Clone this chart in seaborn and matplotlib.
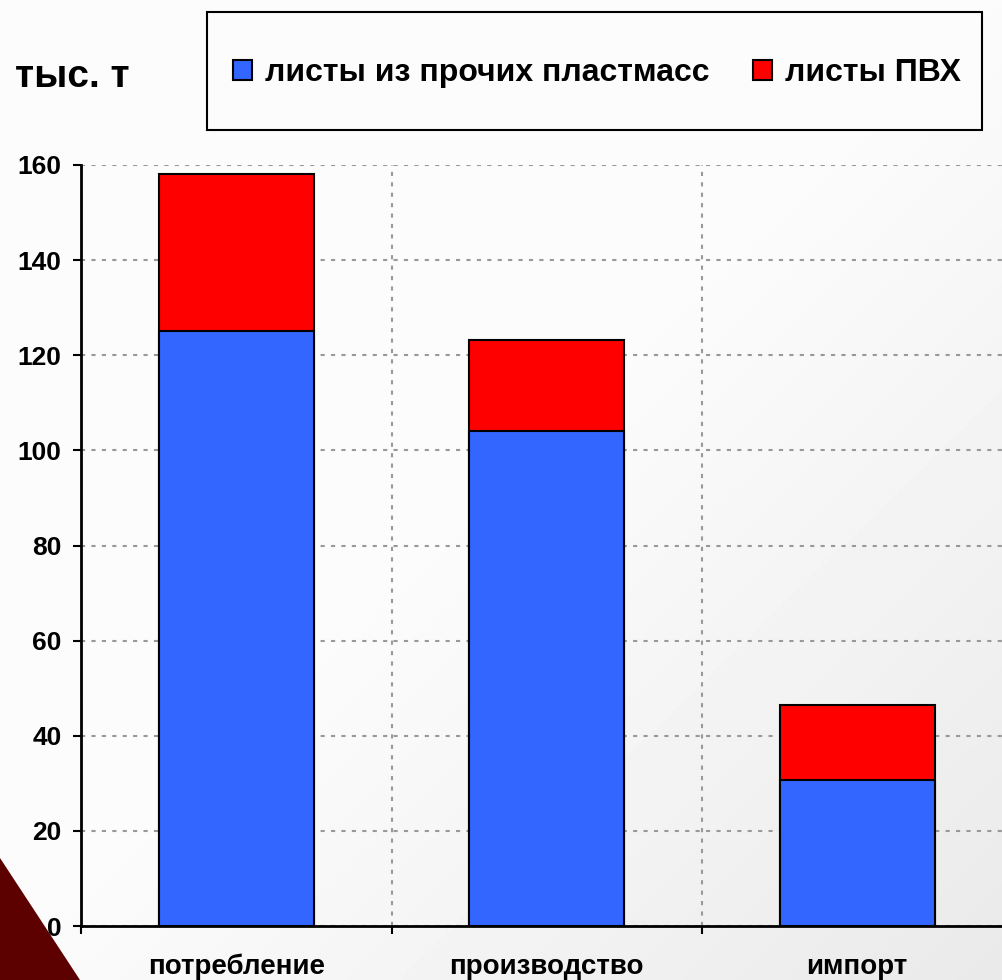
import numpy as np
import pandas as pd
import matplotlib
matplotlib.use("Agg")
import matplotlib.pyplot as plt
import seaborn as sns
from matplotlib.patches import Patch, Rectangle, Polygon

# data
categories = ["потребление", "производство", "импорт"]
other_plastics = [125.0, 104.0, 30.8]
pvc = [33.2, 19.2, 15.6]
series_names = ["листы из прочих пластмасс", "листы ПВХ"]
y_ticks = [0, 20, 40, 60, 80, 100, 120, 140, 160]
unit_label = "тыс. т"

blue = "#3366FF"
red = "#FF0000"
grid_color = "#999999"

df = pd.DataFrame({"category": categories, "other": other_plastics, "pvc": pvc})
df["total"] = df["other"] + df["pvc"]

sns.set_style("white")
plt.rcParams["font.family"] = ["Liberation Sans", "DejaVu Sans"]
plt.rcParams["font.weight"] = "bold"
plt.rcParams["text.color"] = "black"
plt.rcParams["xtick.color"] = "black"
plt.rcParams["ytick.color"] = "black"
plt.rcParams["xtick.labelcolor"] = "black"
plt.rcParams["ytick.labelcolor"] = "black"

W, H = 1003, 980
fig = plt.figure(figsize=(W / 100, H / 100), dpi=100)
fig.patch.set_facecolor("#FBFBFB")

# soft grey background shading toward the lower right
bg = fig.add_axes([0, 0, 1, 1], zorder=-10)
gx, gy = np.meshgrid(np.linspace(0, 1, 200), np.linspace(0, 1, 200))
shade = 0.985 - 0.07 * np.clip(gx + gy - 1.0, 0, 1)
bg.imshow(shade, cmap="gray", vmin=0, vmax=1, extent=[0, 1, 0, 1], aspect="auto")
bg.axis("off")

# dark red corner decoration
fig.add_artist(Polygon([[0, 1 - 858 / H], [80 / W, 0], [0, 0]], closed=True,
                       transform=fig.transFigure, facecolor="#5C0000",
                       edgecolor="none", zorder=-5))

ax = fig.add_axes([81 / W, 1 - 926 / H, (1012.5 - 81) / W, (926 - 165) / H])
ax.set_facecolor("none")

# stacked bars: total (red) first, then the lower part (blue) on top
sns.barplot(data=df, x="category", y="total", color=red, saturation=1, width=0.5,
            edgecolor="black", linewidth=1.5, errorbar=None, ax=ax, zorder=3)
sns.barplot(data=df, x="category", y="other", color=blue, saturation=1, width=0.5,
            edgecolor="black", linewidth=1.5, errorbar=None, ax=ax, zorder=4)

ax.set_xlim(-0.5, 2.5)
ax.set_ylim(0, 160)
ax.set_yticks(y_ticks)
ax.set_xticks(range(len(categories)))
ax.set_xticklabels(categories)
ax.set_xticks([-0.5, 0.5, 1.5, 2.5], minor=True)
ax.set_xlabel("")
ax.set_ylabel("")

ax.tick_params(axis="x", which="major", length=0, pad=20, labelsize=20)
ax.tick_params(axis="x", which="minor", bottom=True, length=6, width=1.5,
               color="black", direction="out")
ax.tick_params(axis="y", left=True, length=6, width=1.5, direction="out",
               pad=8, labelsize=19, color="black")

ax.grid(True, axis="y", which="major", color=grid_color, linestyle=(0, (2, 3)), linewidth=1.5)
ax.grid(True, axis="x", which="minor", color=grid_color, linestyle=(0, (2, 3)), linewidth=1.5)
ax.grid(False, axis="x", which="major")
ax.set_axisbelow(True)

for side in ["top", "right"]:
    ax.spines[side].set_visible(False)
for side in ["left", "bottom"]:
    ax.spines[side].set_color("black")
    ax.spines[side].set_linewidth(2)

# legend box and entries
fig.add_artist(Rectangle((207 / W, 1 - 130 / H), (982 - 207) / W, 118 / H,
                         transform=fig.transFigure, facecolor="#FCFCFC",
                         edgecolor="black", linewidth=1.5, zorder=1))
handles = [Patch(facecolor=blue, edgecolor="black", linewidth=1.5),
           Patch(facecolor=red, edgecolor="black", linewidth=1.5)]
leg = fig.legend(handles, series_names, ncol=2, mode="expand", loc="center",
                 bbox_to_anchor=(233 / W, 1 - 91 / H, (961 - 233) / W, 36 / H),
                 frameon=False, prop={"weight": "bold", "size": 23},
                 handlelength=0.6, handleheight=0.6, handletextpad=0.4,
                 borderaxespad=0, borderpad=0)
leg.set_zorder(2)

fig.text(15 / W, 1 - 87 / H, unit_label, fontsize=28, fontweight="bold",
         ha="left", va="baseline")

fig.savefig("out.png", dpi=100)
